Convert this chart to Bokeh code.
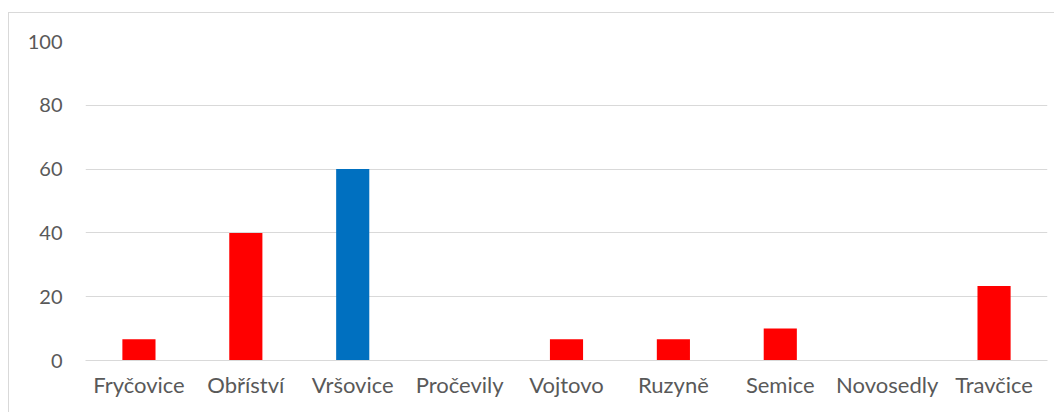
from bokeh.plotting import figure
from bokeh.models import ColumnDataSource, FactorRange, Range1d, FixedTicker
from bokeh.embed import file_html
from bokeh.resources import INLINE

categories = ["Fryčovice", "Obříství", "Vršovice", "Pročevily", "Vojtovo",
              "Ruzyně", "Semice", "Novosedly", "Travčice"]
values = [6.67, 40, 60, 0, 6.67, 6.67, 10, 0, 23.33]
colors = ["#FF0000", "#FF0000", "#0070C0", "#FF0000", "#FF0000",
          "#FF0000", "#FF0000", "#FF0000", "#FF0000"]
y_ticks = [0, 20, 40, 60, 80, 100]

FONT = "Lato"
TXT = "#595959"
GRID = "#d9d9d9"

src = ColumnDataSource(dict(x=categories, top=values, color=colors))

p = figure(
    width=1046, height=400,
    x_range=FactorRange(*categories, range_padding=0),
    y_range=Range1d(0, 100),
    output_backend="svg", toolbar_location=None,
    min_border_left=76, min_border_right=8,
    min_border_top=28, min_border_bottom=53,
    margin=(12, 0, 0, 8),
)
p.styles = {"border-top": "1px solid #d9d9d9", "border-left": "1px solid #d9d9d9"}

p.vbar(x="x", top="top", width=0.31, color="color", source=src, line_color=None)

p.outline_line_color = None
p.background_fill_color = "white"
p.border_fill_color = "white"

p.xgrid.grid_line_color = None
p.ygrid.grid_line_color = GRID
p.ygrid.grid_line_width = 1
p.yaxis.ticker = FixedTicker(ticks=y_ticks)

p.yaxis.axis_line_color = None
p.yaxis.major_tick_line_color = None
p.yaxis.major_tick_out = 0
p.yaxis.minor_tick_line_color = None
p.yaxis.major_label_text_font = FONT
p.yaxis.major_label_text_font_size = "20px"
p.yaxis.major_label_text_color = TXT
p.yaxis.major_label_standoff = 23

p.xaxis.axis_line_color = GRID
p.xaxis.major_tick_line_color = None
p.xaxis.major_tick_out = 0
p.xaxis.minor_tick_line_color = None
p.xaxis.major_label_text_font = FONT
p.xaxis.major_label_text_font_size = "22px"
p.xaxis.major_label_text_color = TXT
p.xaxis.major_label_standoff = 10

open("out.html", "w").write(file_html(p, INLINE))
